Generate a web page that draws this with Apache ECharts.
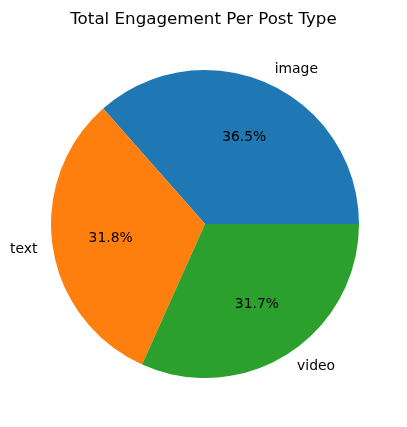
<!DOCTYPE html>
<html>
<head>
<meta charset="utf-8">
<script src="https://cdn.jsdelivr.net/npm/echarts@6/dist/echarts.min.js"></script>
<style>
html,body{margin:0;padding:0;background:#fff;}
#chart{width:407px;height:427px;}
</style>
</head>
<body>
<div id="chart"></div>
<script>
// data (share of total engagement)
var postTypes = ['image', 'text', 'video'];
var engagement = [36.5, 31.8, 31.7];
var sliceColors = ['#1f77b4', '#ff7f0e', '#2ca02c'];

var total = engagement.reduce(function(a, b){ return a + b; }, 0);
var pieData = postTypes.map(function(name, i){
    return {name: name, value: engagement[i], itemStyle: {color: sliceColors[i]}};
});

var R = 154;
var chart = echarts.init(document.getElementById('chart'));
chart.setOption({
    animation: false,
    title: {
        text: 'Total Engagement Per Post Type',
        left: 'center',
        top: 6,
        textStyle: {fontFamily: 'DejaVu Sans', fontSize: 16.7, fontWeight: 'normal', color: '#000'}
    },
    series: [
        {
            // the slices with the outer names (at 1.1 R)
            type: 'pie',
            center: [205, 224],
            radius: [0, R],
            startAngle: 0,
            clockwise: false,
            silent: true,
            avoidLabelOverlap: false,
            data: pieData,
            itemStyle: {borderWidth: 0},
            label: {
                show: true,
                position: 'outside',
                formatter: '{b}',
                overflow: 'none',
                bleedMargin: 0,
                edgeDistance: 0,
                distanceToLabelLine: 0,
                fontFamily: 'DejaVu Sans',
                fontSize: 13.9,
                color: '#000'
            },
            labelLine: {show: false, length: R * 0.1, length2: 0},
            emphasis: {disabled: true}
        },
        {
            // transparent ring so inside labels sit at 0.6 R
            type: 'pie',
            center: [205, 224],
            radius: [R * 0.2, R],
            startAngle: 0,
            clockwise: false,
            silent: true,
            data: pieData.map(function(d){
                return {name: d.name, value: d.value, itemStyle: {color: 'rgba(0,0,0,0)'}};
            }),
            label: {
                show: true,
                position: 'inside',
                formatter: function(p){ return (p.value / total * 100).toFixed(1) + '%'; },
                fontFamily: 'DejaVu Sans',
                fontSize: 13.9,
                color: '#000'
            },
            labelLine: {show: false},
            emphasis: {disabled: true}
        }
    ]
});
</script>
</body>
</html>
